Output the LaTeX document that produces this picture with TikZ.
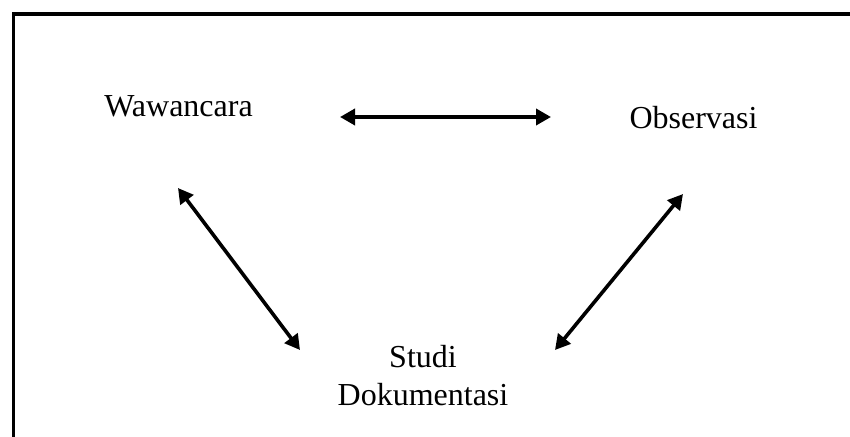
\documentclass[tikz,border=0pt]{standalone}
\usepackage{fontspec}
\setmainfont{Liberation Serif}
\usetikzlibrary{arrows.meta}
\begin{document}
\begin{tikzpicture}[x=1pt,y=-1pt,
  lbl/.style={font=\fontsize{32}{38.4}\selectfont, inner sep=0pt},
  link/.style={line width=3.6pt, {Triangle[length=15pt,width=16pt]}-{Triangle[length=15pt,width=16pt]}}]
\useasboundingbox (0,0) rectangle (850,436);
\clip (0,0) rectangle (850,436);
\draw[line width=3.2pt] (13.5,14) rectangle (880,470);
\node[lbl, anchor=base] (waw) at (178.5,116) {Wawancara};
\node[lbl, anchor=base] (obs) at (693.5,128) {Observasi};
\node[lbl, anchor=north, align=center] (stu) at (423,345) {Studi\\Dokumentasi};
\coordinate (h1) at (340,117);
\coordinate (h2) at (551,117);
\coordinate (l1) at (178,188);
\coordinate (l2) at (300,350);
\coordinate (r1) at (683,194);
\coordinate (r2) at (555,350);
\draw[link] (h1) -- (h2);
\draw[link] (l1) -- (l2);
\draw[link] (r1) -- (r2);
\end{tikzpicture}
\end{document}
